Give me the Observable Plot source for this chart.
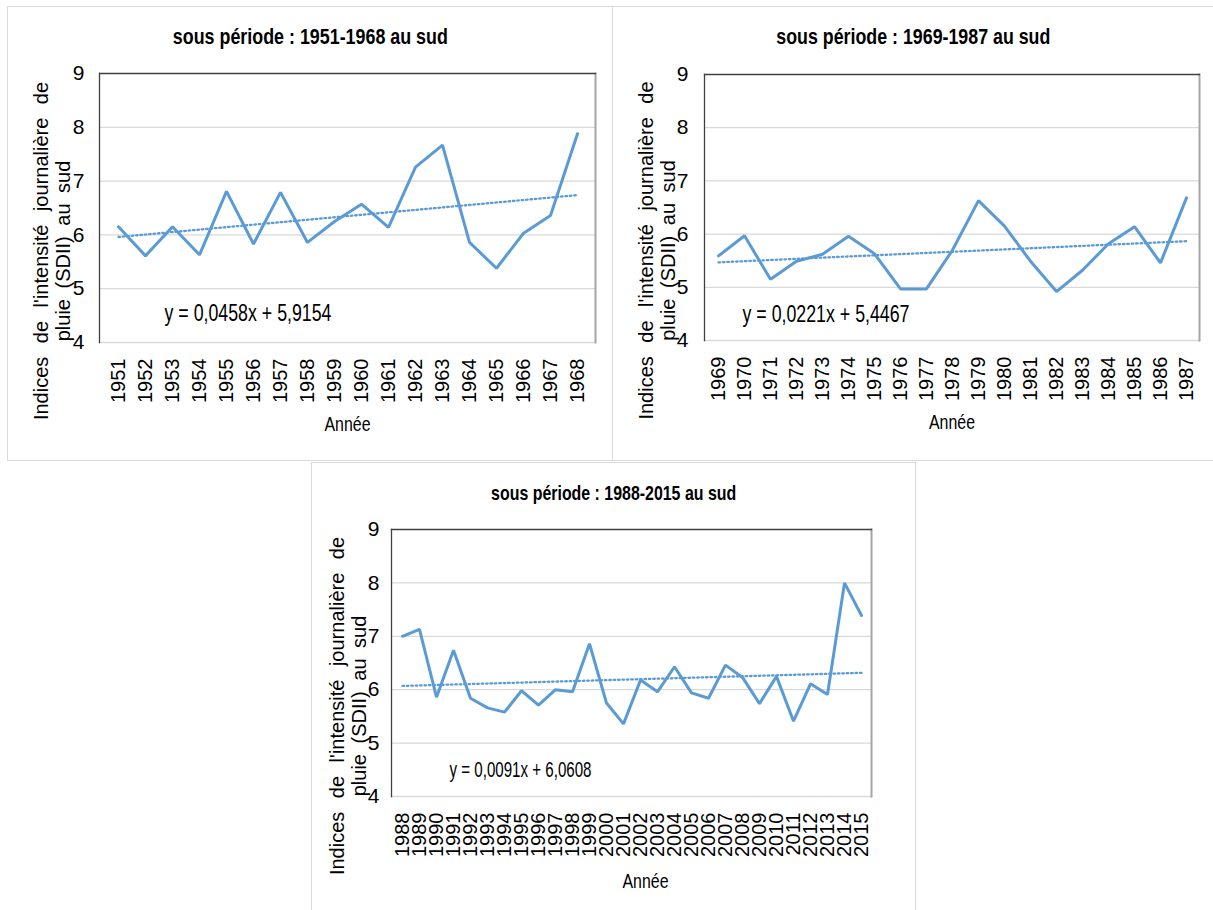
<!DOCTYPE html>
<html>
<head>
<meta charset="utf-8">
<script src="https://cdn.jsdelivr.net/npm/d3@7"></script>
<script src="https://cdn.jsdelivr.net/npm/@observablehq/plot@0.6"></script>
<style>
  html, body { margin: 0; padding: 0; background: #fff; }
  body { width: 1213px; height: 910px; position: relative; overflow: hidden; }
  .panel { position: absolute; box-sizing: border-box; border: 1px solid #d9d9d9; background: #fff; }
  .title { height: 44px; box-sizing: border-box; padding-top: 19px; line-height: 21px; text-align: center;
           font-family: "Liberation Sans", Arial, sans-serif; font-weight: bold; color: #000; white-space: nowrap; }
  .title span { display: inline-block; transform-origin: 50% 50%; }
  .panel svg { display: block; overflow: visible; }
</style>
</head>
<body>
<div class="panel" id="p1" style="left:7px;top:6px;width:606px;height:455px"></div>
<div class="panel" id="p2" style="left:612px;top:6px;width:602px;height:455px"></div>
<div class="panel" id="p3" style="left:311px;top:462px;width:605px;height:460px"></div>
<script>
// ---- data ----
const years1 = [1951, 1952, 1953, 1954, 1955, 1956, 1957, 1958, 1959, 1960, 1961, 1962, 1963, 1964, 1965, 1966, 1967, 1968];
const sdii1  = [6.15, 5.61, 6.15, 5.63, 6.81, 5.83, 6.79, 5.86, 6.25, 6.57, 6.14, 7.26, 7.67, 5.86, 5.38, 6.03, 6.36, 7.88];

const years2 = [1969, 1970, 1971, 1972, 1973, 1974, 1975, 1976, 1977, 1978, 1979, 1980, 1981, 1982, 1983, 1984, 1985, 1986, 1987];
const sdii2  = [5.59, 5.97, 5.15, 5.49, 5.62, 5.96, 5.63, 4.97, 4.97, 5.70, 6.63, 6.15, 5.49, 4.92, 5.32, 5.82, 6.14, 5.46, 6.68];

const years3 = [1988, 1989, 1990, 1991, 1992, 1993, 1994, 1995, 1996, 1997, 1998, 1999, 2000, 2001,
                2002, 2003, 2004, 2005, 2006, 2007, 2008, 2009, 2010, 2011, 2012, 2013, 2014, 2015];
const sdii3  = [7.00, 7.13, 5.86, 6.74, 5.84, 5.66, 5.58, 5.98, 5.71, 6.00, 5.96, 6.86, 5.75, 5.36,
                6.18, 5.96, 6.43, 5.94, 5.84, 6.46, 6.23, 5.74, 6.25, 5.41, 6.11, 5.91, 8.00, 7.39];

const titles     = ["sous période : 1951-1968 au sud", "sous période : 1969-1987 au sud", "sous période : 1988-2015 au sud"];
const slopes     = [0.0458, 0.0221, 0.0091];
const intercepts = [5.9154, 5.4467, 6.0608];
const equations  = ["y = 0,0458x + 5,9154", "y = 0,0221x + 5,4467", "y = 0,0091x + 6,0608"];
const yTicks     = [4, 5, 6, 7, 8, 9];
const gridTicks  = [5, 6, 7, 8];
const yTitle     = ["Indices de l'intensité journalière de", "pluie (SDII) au sud"];
const xTitle     = "Année";

// ---- styling ----
const BLUE = "#5b9bd5";
const SANS = "'Liberation Sans', Arial, sans-serif";

const layouts = [
  {id: "p1", width: 604, height: 410, mt: 22, mb: 119, ml: 91, mr: 17, titleSize: 22, titleW: 275,
   eqSize: 23, eqW: 167, eqDx: 65, eqDy: -29, ytDx: -48, ytDy: 43, xtDx: 0, xtDy: 82, ytPad: 15},
  {id: "p2", width: 600, height: 410, mt: 23, mb: 121, ml: 91, mr: 14, titleSize: 22, titleW: 274,
   eqSize: 23, eqW: 167, eqDx: 38, eqDy: -26, ytDx: -48, ytDy: 43, xtDx: 0, xtDy: 82, ytPad: 16},
  {id: "p3", width: 603, height: 404, mt: 22, mb: 115, ml: 79, mr: 44, titleSize: 21, titleW: 245,
   eqSize: 22, eqW: 142, eqDx: 58, eqDy: -27, ytDx: -44, ytDy: 43, xtDx: 14, xtDy: 85, ytPad: 12}
];
const yearsAll = [years1, years2, years3];
const valuesAll = [sdii1, sdii2, sdii3];

layouts.forEach((L, k) => {
  const years = yearsAll[k];
  const vals = valuesAll[k];
  const n = years.length;
  const rows = years.map((yr, i) => ({year: yr, v: vals[i]}));
  const trend = [
    {year: years[0], v: intercepts[k] + slopes[k] * 1},
    {year: years[n - 1], v: intercepts[k] + slopes[k] * n}
  ];

  const chart = Plot.plot({
    width: L.width,
    height: L.height,
    marginTop: L.mt,
    marginBottom: L.mb,
    marginLeft: L.ml,
    marginRight: L.mr,
    style: {fontFamily: SANS, fontSize: "20px", color: "#000", background: "transparent", overflow: "visible"},
    x: {type: "point", domain: years, padding: 0.5},
    y: {domain: [4, 9]},
    marks: [
      Plot.gridY(gridTicks, {stroke: "#d9d9d9", strokeOpacity: 1, strokeWidth: 1.3}),
      Plot.frame({anchor: "bottom", stroke: "#d9d9d9", strokeWidth: 1.3}),
      Plot.frame({anchor: "right", stroke: "#a6a6a6", strokeWidth: 2}),
      Plot.frame({anchor: "top", stroke: "#404040", strokeWidth: 1.3}),
      Plot.frame({anchor: "left", stroke: "#404040", strokeWidth: 1.3}),
      Plot.axisY({ticks: yTicks, tickSize: 0, tickPadding: L.ytPad, label: null, tickFormat: d => String(d),
        fontSize: 21, fill: "#000"}),
      Plot.axisX({tickSize: 0, tickPadding: 16, tickRotate: -90, label: null, tickFormat: d => String(d),
        fontSize: 20, fill: "#000"}),
      Plot.line(trend, {x: "year", y: "v", stroke: BLUE, strokeWidth: 2.3, strokeDasharray: "1.6,2.8"}),
      Plot.line(rows, {x: "year", y: "v", stroke: BLUE, strokeWidth: 3, strokeLinejoin: "miter"}),
      Plot.text([equations[k]], {frameAnchor: "bottom-left", text: d => d, textAnchor: "start", lineAnchor: "middle",
        dx: L.eqDx, dy: L.eqDy, fontFamily: SANS, fontSize: L.eqSize, fill: "#000"}),
      Plot.text([yTitle.join("\n")], {frameAnchor: "left", text: d => d, rotate: -90, textAnchor: "middle", lineAnchor: "middle",
        lineHeight: 1.1, dx: L.ytDx, dy: L.ytDy, fontFamily: SANS, fontSize: 20, fill: "#000"}),
      Plot.text([xTitle], {frameAnchor: "bottom", text: d => d, textAnchor: "middle", lineAnchor: "middle",
        dx: L.xtDx, dy: L.xtDy, fontFamily: SANS, fontSize: 21, fill: "#000"})
    ]
  });

  // typographic tweaks: condensed equation / axis title, justified y title
  d3.select(chart).selectAll("text").each(function() {
    const txt = this.textContent || "";
    const t = d3.select(this);
    if (txt.startsWith("Indices")) {
      t.selectAll("tspan").each(function(_, i) {
        d3.select(this).style("word-spacing", i === 0 ? "8px" : "5px");
      });
    } else if (txt === equations[k]) {
      t.attr("textLength", L.eqW).attr("lengthAdjust", "spacingAndGlyphs");
    } else if (txt === xTitle) {
      t.attr("textLength", 46).attr("lengthAdjust", "spacingAndGlyphs");
    }
  });

  const panel = document.getElementById(L.id);
  const title = document.createElement("div");
  title.className = "title";
  title.style.fontSize = L.titleSize + "px";
  const span = document.createElement("span");
  span.textContent = titles[k];
  title.appendChild(span);
  panel.appendChild(title);
  panel.appendChild(chart);
  const w = span.getBoundingClientRect().width;
  if (w > 0) span.style.transform = `scaleX(${(L.titleW / w).toFixed(3)})`;
});
</script>
</body>
</html>
